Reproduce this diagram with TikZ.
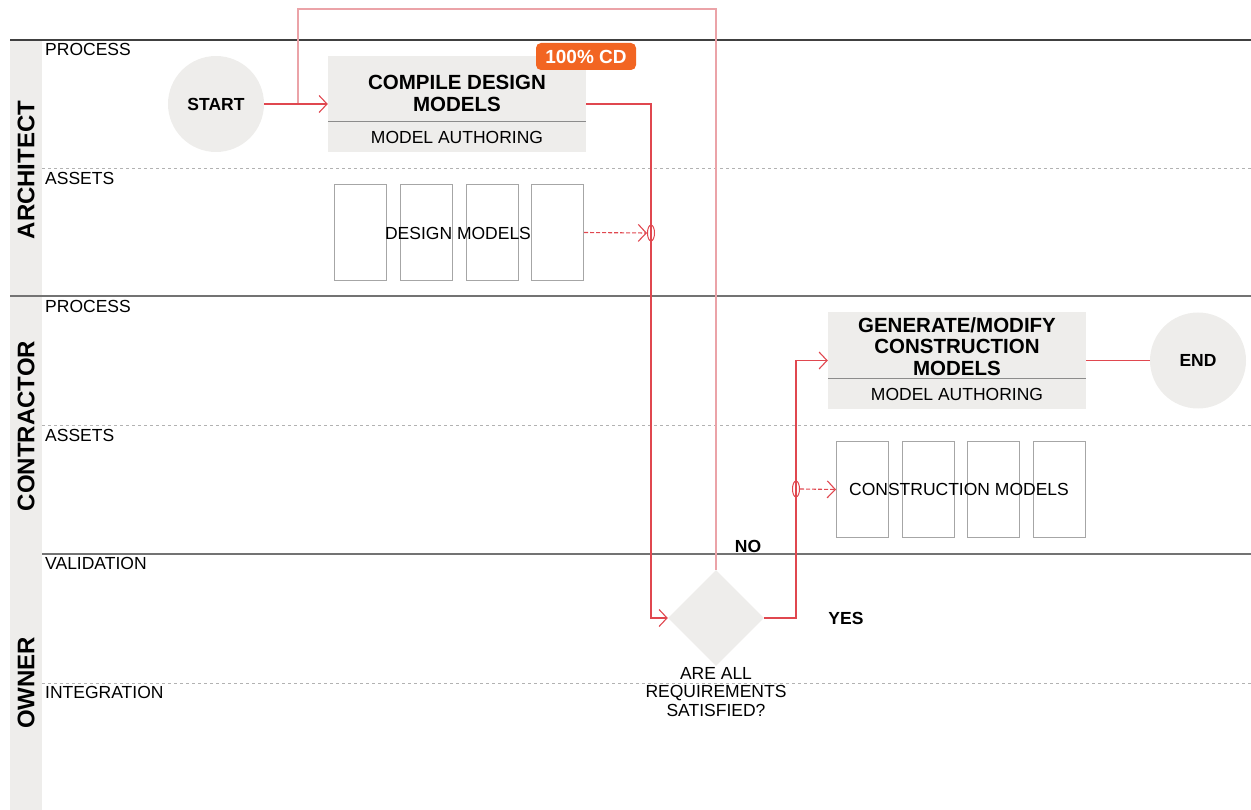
\documentclass[tikz,border=0pt]{standalone}
\usepackage{fontspec}
\setmainfont{Liberation Sans}
\usetikzlibrary{arrows.meta,shapes.geometric,positioning}
\definecolor{flowred}{HTML}{E0474F}
\definecolor{looppink}{HTML}{EBA3A8}
\definecolor{boxgray}{HTML}{EEEDEB}
\definecolor{edgegray}{HTML}{A6A6A6}
\definecolor{badgeorange}{HTML}{F26522}
\tikzset{
  sublane/.style={anchor=west,inner sep=2pt,font=\fontsize{17.5}{20}\selectfont},
  lane/.style={rotate=90,inner sep=0pt,font=\bfseries\fontsize{24}{26}\selectfont},
  terminal/.style={circle,fill=boxgray,minimum size=96pt,inner sep=0pt,font=\bfseries\fontsize{17.5}{20}\selectfont},
  taskbox/.style={fill=boxgray,minimum width=258pt,minimum height=96pt,inner sep=0pt},
  tasktitle/.style={align=center,inner sep=0pt,font=\bfseries\fontsize{20.5}{21.5}\selectfont},
  tasksub/.style={inner sep=0pt,font=\fontsize{17.5}{20}\selectfont},
  asset/.style={draw=edgegray,line width=1pt,minimum width=52pt,minimum height=96pt,anchor=north west,inner sep=0pt},
  plain/.style={inner sep=0pt,font=\fontsize{17.5}{20}\selectfont},
  answer/.style={inner sep=0pt,font=\bfseries\fontsize{17.5}{20}\selectfont},
  flow/.style={draw=flowred,line width=1.1pt},
  assetflow/.style={flow,dash pattern=on 4pt off 2pt},
  junction/.style={ellipse,draw=flowred,line width=1pt,minimum width=7pt,minimum height=16pt,inner sep=0pt}
}
\begin{document}
\begin{tikzpicture}[x=1pt,y=-1pt,>={Straight Barb[length=8pt,width=17pt]}]
\useasboundingbox (0,0) rectangle (1251,810);
% lanes
\fill[boxgray] (10,40) rectangle (42,810);
\draw[black!75,line width=1.2pt] (10,40)--(1251,40);
\draw[black!55,line width=1.4pt] (10,296)--(1251,296);
\draw[black!55,line width=1.4pt] (42,554)--(1251,554);
\foreach \y in {168,425,683}
  \draw[black!30,dashed,line width=0.9pt] (42,\y)--(1251,\y);
\node[lane] (architect) at (26,170) {ARCHITECT};
\node[lane] (contractor) at (26,426) {CONTRACTOR};
\node[lane] (owner) at (26,683) {OWNER};
\node[sublane] (archproc) at (43,49.5) {PROCESS};
\node[sublane] (archassets) at (43,178.5) {ASSETS};
\node[sublane] (contproc) at (43,306.5) {PROCESS};
\node[sublane] (contassets) at (43,435) {ASSETS};
\node[sublane] (validation) at (43,563.5) {VALIDATION};
\node[sublane] (integration) at (43,692.5) {INTEGRATION};
% architect
\node[terminal] (start) at (216,104) {START};
\node[taskbox] (compile) at (457,104) {};
\draw[black!45,line width=1pt] (328,122)--(586,122);
\node[tasktitle] (compiletitle) at (457,93.5) {COMPILE DESIGN\\MODELS};
\node[tasksub] (compilesub) at (457,137) {MODEL AUTHORING};
\node[fill=badgeorange,rounded corners=5pt,minimum width=100pt,minimum height=27pt,inner sep=0pt,
  text=white,font=\bfseries\fontsize{19}{20}\selectfont] (badge) at (586,56.5) {100\% CD};
\foreach \x [count=\i] in {334,400,466,531}
  \node[asset] (dm\i) at (\x,184) {};
\node[plain] (dmtext) at (458,233) {DESIGN MODELS};
\node[junction] (j1) at (651,233) {};
% contractor
\node[taskbox] (generate) at (957,360.5) {};
\draw[black!45,line width=1pt] (828,379)--(1086,379);
\node[tasktitle] (gentitle) at (957,346.5) {GENERATE/MODIFY\\CONSTRUCTION\\MODELS};
\node[tasksub] (gensub) at (957,394) {MODEL AUTHORING};
\node[terminal] (end) at (1198,360.5) {END};
\foreach \x [count=\i] in {836,902,967,1033}
  \node[asset] (cm\i) at (\x,441) {};
\node[plain] (cmtext) at (959,489) {CONSTRUCTION MODELS};
\node[junction] (j2) at (796,489) {};
% owner
\node[diamond,fill=boxgray,minimum size=96pt,inner sep=0pt] (check) at (716,618) {};
\node[plain,align=center,font=\fontsize{17.5}{18.5}\selectfont] (checktext) at (716,692) {ARE ALL\\REQUIREMENTS\\SATISFIED?};
\node[answer] (no) at (748,546) {NO};
\node[answer] (yes) at (846,618) {YES};
% flows
\coordinate (merge) at (298,104);
\coordinate (looptop) at (298,9);
\draw[draw=looppink,line width=1.1pt] (check.north) |- (looptop) -- (merge);
\draw[flow,->] (start.east) -- (compile.west);
\draw[flow,->] (compile.east) -| (j1.center) |- (check.west);
\draw[assetflow,->] (dm4.east) -- (j1.west);
\draw[flow,->] (check.east) -| (j2.center) |- (generate.west);
\draw[assetflow,->] (j2.east) -- (cm1.west);
\draw[flow] (generate.east) -- (end.west);
\end{tikzpicture}
\end{document}
